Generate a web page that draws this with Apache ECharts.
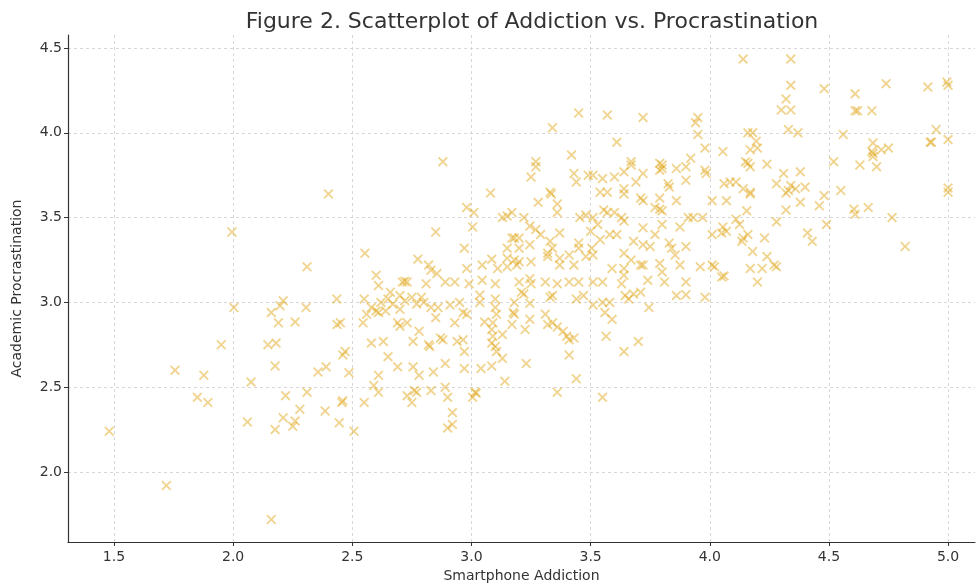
<!DOCTYPE html>
<html><head><meta charset="utf-8">
<script src="https://cdn.jsdelivr.net/npm/echarts@6/dist/echarts.min.js"></script>
<style>html,body{margin:0;padding:0;background:#fff}#c{width:979px;height:588px}</style>
</head><body><div id="c"></div>
<script>
const titleText = 'Figure 2. Scatterplot of Addiction vs. Procrastination';
const xName = 'Smartphone Addiction';
const yName = 'Academic Procrastination';
const xTicks = [1.5, 2.0, 2.5, 3.0, 3.5, 4.0, 4.5, 5.0];
const yTicks = [2.0, 2.5, 3.0, 3.5, 4.0, 4.5];

// Smartphone Addiction values
const addiction = [
1.48,1.72,1.756,1.85,1.877,1.894,1.95,1.995,2.003,2.06,2.075,2.146,2.16,2.18,2.176,2.176,2.16,2.19,2.197,2.21,2.22,2.21,2.26,2.28,2.26,2.25,2.306,2.31,2.31,2.356,2.39,2.386,2.40,
2.436,2.45,2.47,2.46,2.486,2.456,2.46,2.445,2.507,2.545,2.58,2.63,2.61,2.60,2.65,2.61,2.59,2.61,2.55,2.69,2.69,2.70,2.73,2.78,2.755,2.82,2.825,2.755,2.78,2.73,2.76,2.77,2.75,2.84,2.83,2.87,2.88,2.89,2.89,2.90,2.92,2.90,2.92,2.85,2.83,2.91,2.93,2.94,
2.88,2.85,2.553,2.775,2.60,2.61,2.71,2.72,2.73,2.82,2.83,2.855,2.89,2.93,2.81,2.66,2.70,2.75,2.79,2.435,2.55,
2.58,2.62,2.65,2.67,2.70,2.72,2.77,2.80,2.86,2.95,2.56,2.64,
3.45,3.34,3.27,3.27,3.25,3.42,3.43,3.44,3.49,3.08,3.33,3.335,3.28,3.36,3.36,2.98,3.01,3.005,3.13,3.15,3.17,3.22,3.455,3.48,3.245,3.27,3.29,3.37,3.17,3.18,3.20,3.15,3.20,3.245,3.33,3.34,3.45,3.45,2.97,2.98,3.045,3.085,3.11,3.15,3.18,3.19,3.20,3.25,3.32,3.32,3.37,3.37,3.41,3.43,3.48,2.99,3.045,3.10,3.15,3.20,3.245,3.25,3.31,3.36,3.41,3.45,
3.035,3.035,2.965,2.98,3.10,3.10,3.18,3.245,3.21,3.22,3.33,3.34,3.44,3.47,3.055,3.105,3.09,3.085,3.09,3.085,3.10,3.105,3.13,3.13,3.175,3.18,3.17,3.225,3.245,3.31,3.32,3.34,3.36,3.385,3.40,3.41,3.43,3.41,3.23,3.14,3.085,3.04,2.965,2.97,2.97,3.015,3.02,3.005,3.36,3.44,
3.57,3.72,3.95,3.94,3.95,3.98,3.61,3.67,3.67,3.64,3.60,3.55,3.51,3.79,3.80,3.79,3.80,3.86,3.90,3.92,3.98,3.985,3.72,3.69,3.90,3.825,3.83,3.54,3.57,3.64,3.64,3.71,3.72,3.79,3.86,3.77,3.79,3.80,3.555,3.57,3.60,3.51,3.63,3.64,3.53,3.91,3.93,3.97,3.80,3.875,3.72,3.58,3.61,3.50,3.77,3.54,3.68,3.72,3.75,3.83,3.84,3.90,3.855,3.505,3.51,3.64,3.67,3.71,3.72,3.79,3.80,3.875,3.59,3.64,3.64,4.01,4.02,3.55,3.63,3.74,3.81,3.90,3.51,4.01,4.01,3.96,4.05,
3.51,3.55,3.58,3.56,3.59,3.645,3.66,3.68,3.71,3.745,3.86,3.90,3.98,3.565,3.70,3.64,3.55,
4.14,4.34,4.34,4.48,4.32,4.30,4.34,4.33,4.37,4.16,4.18,4.195,4.20,4.17,4.055,4.15,4.16,4.17,4.24,4.52,4.56,4.31,4.38,4.28,4.34,4.32,4.33,4.36,4.40,4.55,4.06,4.085,4.11,4.14,4.17,4.17,4.07,4.38,4.48,4.46,4.32,4.155,4.49,4.28,4.11,4.125,4.055,4.07,4.05,4.16,4.23,4.41,4.43,4.135,4.14,4.18,4.24,4.27,4.28,4.17,4.22,4.06,4.20,
4.74,4.915,4.995,5.0,4.61,4.61,4.62,4.68,4.95,4.925,4.93,5.00,4.685,4.68,4.685,4.72,4.75,4.685,4.63,4.70,5.00,5.00,4.605,4.61,4.665,4.765,4.82
];

// Academic Procrastination values (same order)
const procrastination = [
2.24,1.92,2.60,2.44,2.57,2.41,2.75,3.415,2.97,2.295,2.53,2.75,2.94,2.76,2.625,2.25,1.72,2.88,2.98,3.01,2.45,2.32,2.885,2.37,2.30,2.27,2.97,2.47,3.21,2.59,2.62,2.36,3.64,
2.87,2.88,2.71,2.69,2.585,2.41,2.42,2.29,2.24,2.88,2.76,2.77,2.94,2.95,2.68,2.57,2.51,2.47,2.41,2.62,2.88,2.86,2.88,2.83,2.77,2.75,2.74,2.62,2.57,2.45,2.48,2.47,2.41,2.59,2.48,2.79,2.78,2.64,2.50,2.44,2.35,2.26,2.28,2.91,2.97,2.985,2.88,2.77,
3.83,3.415,3.29,3.255,3.16,3.10,3.12,3.125,3.12,3.22,3.19,3.17,3.12,3.12,3.11,3.06,3.04,3.03,3.03,3.02,3.02,
2.97,3.00,3.02,2.99,2.96,3.01,2.99,3.00,2.97,3.00,2.93,2.95,
4.117,4.03,3.83,3.80,3.74,3.87,3.76,3.71,3.75,3.645,3.65,3.64,3.59,3.58,3.53,3.56,3.53,3.445,3.50,3.51,3.53,3.50,3.50,3.515,3.45,3.43,3.40,3.41,3.38,3.38,3.38,3.32,3.32,3.34,3.36,3.32,3.35,3.32,3.32,3.20,3.22,3.255,3.20,3.26,3.25,3.22,3.24,3.24,3.29,3.27,3.26,3.22,3.28,3.22,3.27,3.11,3.13,3.11,3.21,3.12,3.14,3.11,3.12,3.11,3.12,3.12,
3.044,3.00,2.94,2.93,3.02,2.97,3.00,2.995,3.06,3.05,3.03,3.04,3.02,3.04,2.885,2.93,2.88,2.84,2.80,2.76,2.74,2.71,2.67,2.81,2.94,2.93,2.87,2.84,2.90,2.93,2.87,2.88,2.855,2.83,2.80,2.78,2.79,2.69,2.64,2.535,2.625,2.61,2.78,2.71,2.61,2.47,2.465,2.44,2.47,2.55,
4.105,4.09,4.09,4.06,3.99,3.91,3.945,3.83,3.81,3.77,3.74,3.73,3.75,3.82,3.81,3.78,3.79,3.79,3.80,3.85,3.78,3.76,3.76,3.71,3.72,3.70,3.68,3.65,3.65,3.67,3.64,3.615,3.60,3.615,3.60,3.56,3.55,3.54,3.545,3.53,3.53,3.50,3.50,3.48,3.46,3.50,3.50,3.50,3.46,3.445,3.44,3.40,3.40,3.42,3.40,3.37,3.36,3.34,3.33,3.35,3.32,3.33,3.28,3.32,3.28,3.29,3.25,3.22,3.22,3.23,3.18,3.22,3.20,3.20,3.16,3.22,3.21,3.12,3.11,3.13,3.12,3.12,3.12,3.60,3.40,3.21,3.15,
2.985,3.00,3.00,2.94,2.90,3.04,3.02,3.05,3.06,2.97,3.04,3.045,3.03,2.80,2.77,2.71,2.44,
4.435,4.435,4.28,4.26,4.20,4.135,4.135,4.02,4.00,4.00,4.00,3.95,3.91,3.90,3.89,3.83,3.82,3.80,3.815,3.83,3.99,3.76,3.77,3.70,3.69,3.645,3.66,3.67,3.68,3.66,3.70,3.71,3.71,3.67,3.65,3.64,3.60,3.59,3.63,3.57,3.545,3.54,3.46,3.475,3.49,3.46,3.445,3.42,3.41,3.40,3.38,3.41,3.36,3.36,3.38,3.30,3.27,3.22,3.21,3.20,3.20,3.155,3.12,
4.29,4.27,4.30,4.28,4.23,4.13,4.13,4.13,4.02,3.945,3.945,3.96,3.94,3.89,3.88,3.90,3.91,3.86,3.81,3.80,3.675,3.65,3.55,3.52,3.56,3.50,3.33
];

const points = addiction.map((x, i) => [x, procrastination[i]]);
const cross = 'path://M1.3,0 L5,3.7 L8.7,0 L10,1.3 L6.3,5 L10,8.7 L8.7,10 L5,6.3 L1.3,10 L0,8.7 L3.7,5 L0,1.3 Z';
const font = 'DejaVu Sans';

const chart = echarts.init(document.getElementById('c'), null, {renderer: 'canvas'});
chart.setOption({
  animation: false,
  backgroundColor: '#ffffff',
  title: {
    text: titleText, left: 527, top: 6, textAlign: 'center',
    textStyle: {fontFamily: font, fontSize: 22, fontWeight: 'normal', color: '#333'}
  },
  grid: {left: 68, right: 4, top: 35, bottom: 46, containLabel: false},
  xAxis: {
    type: 'value', min: 1.307, max: 5.113,
    name: xName, nameLocation: 'middle', nameGap: 26,
    nameTextStyle: {fontFamily: font, fontSize: 14, color: '#333'},
    axisLine: {show: true, onZero: false, lineStyle: {color: '#333', width: 1.2}},
    axisTick: {show: true, length: 4, customValues: xTicks, lineStyle: {color: '#333'}},
    axisLabel: {customValues: xTicks, formatter: v => v.toFixed(1), fontFamily: font, fontSize: 14, color: '#333', margin: 8},
    splitLine: {show: true, lineStyle: {color: '#cfcfcf', type: [3, 3], width: 0.8}}
  },
  yAxis: {
    type: 'value', min: 1.587, max: 4.577,
    name: yName, nameLocation: 'middle', nameGap: 44,
    nameTextStyle: {fontFamily: font, fontSize: 14, color: '#333'},
    axisLine: {show: true, onZero: false, lineStyle: {color: '#333', width: 1.2}},
    axisTick: {show: true, length: 4, customValues: yTicks, lineStyle: {color: '#333'}},
    axisLabel: {customValues: yTicks, formatter: v => v.toFixed(1), fontFamily: font, fontSize: 14, color: '#333', margin: 6},
    splitLine: {show: true, lineStyle: {color: '#cfcfcf', type: [3, 3], width: 0.8}}
  },
  series: [{
    type: 'scatter', data: points, symbol: cross, symbolSize: 10,
    itemStyle: {color: 'rgba(224,168,30,0.62)'}
  }]
});
</script></body></html>
